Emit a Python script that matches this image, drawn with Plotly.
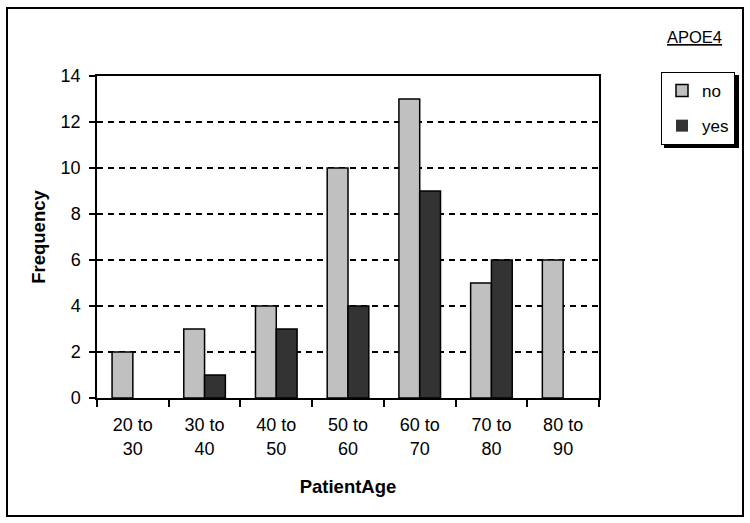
import plotly.graph_objs as go

# data
age_groups = ["20 to<br>30", "30 to<br>40", "40 to<br>50", "50 to<br>60",
              "60 to<br>70", "70 to<br>80", "80 to<br>90"]
freq_no = [2, 3, 4, 10, 13, 5, 6]
freq_yes = [0, 1, 3, 4, 9, 6, 0]

FONT = "Liberation Sans, Arial, sans-serif"

# no outline on empty bars (Excel draws nothing there)
def outline(vals):
    return [0 if v == 0 else 1.5 for v in vals]

fig = go.Figure()
fig.add_trace(go.Bar(
    x=age_groups, y=freq_no, name="no", legendgroup="no",
    marker=dict(color="#c0c0c0", line=dict(color="black", width=outline(freq_no)))
))
fig.add_trace(go.Bar(
    x=age_groups, y=freq_yes, name="yes", legendgroup="yes",
    marker=dict(color="#333333", line=dict(color="black", width=outline(freq_yes)))
))

# legend box (right aligned), shadow drawn behind it
leg_right, leg_top, leg_bottom, leg_left = 735, 72, 144, 661

fig.update_layout(
    width=750, height=523,
    margin=dict(l=97, r=151, t=76, b=125, autoexpand=False),
    paper_bgcolor="white", plot_bgcolor="white",
    font=dict(family=FONT, size=18, color="black"),
    barmode="group", bargap=0.42, bargroupgap=0,
    showlegend=True,
    legend=dict(
        x=(leg_right - 97) / 502, y=(398 - leg_top) / 322,
        xanchor="right", yanchor="top",
        bgcolor="white", bordercolor="black", borderwidth=1,
        font=dict(size=17), itemwidth=30, tracegroupgap=10,
        traceorder="grouped",
    ),
    xaxis=dict(
        title=dict(text="<b>PatientAge</b>", font=dict(size=18.5), standoff=22),
        showline=True, linecolor="black", linewidth=1.5, mirror=True,
        ticks="outside", tickson="boundaries", ticklen=7, tickcolor="black",
        tickwidth=1.5, showgrid=False, automargin=False, ticklabelstandoff=10,
    ),
    yaxis=dict(
        title=dict(text="<b>Frequency</b>", font=dict(size=18.5), standoff=10),
        range=[0, 14], dtick=2,
        showline=True, linecolor="black", linewidth=1.5, mirror=True,
        ticks="outside", ticklen=6, tickcolor="black", tickwidth=1.5,
        showgrid=True, gridcolor="black", griddash="6px,5px", gridwidth=1.5,
        zeroline=False, automargin=False, ticklabelstandoff=5,
    ),
    annotations=[dict(
        text="<u>APOE4</u>", xref="paper", yref="paper",
        x=(724 - 97) / 502, y=(398 - 37) / 322, xanchor="right", yanchor="middle",
        showarrow=False, font=dict(size=16.5),
    )],
    shapes=[
        # outer chart border
        dict(type="rect", xref="paper", yref="paper",
             x0=(7 - 97) / 502, x1=(743 - 97) / 502,
             y0=(398 - 516) / 322, y1=(398 - 8) / 322,
             line=dict(color="black", width=2), fillcolor="rgba(0,0,0,0)"),
        # legend shadow
        dict(type="rect", xref="paper", yref="paper",
             x0=(leg_left + 3 - 97) / 502, x1=(leg_right + 4 - 97) / 502,
             y0=(398 - leg_bottom - 4) / 322, y1=(398 - leg_top - 3) / 322,
             line=dict(width=0), fillcolor="black", layer="below"),
    ],
)

fig.write_html("out.html", config={"displayModeBar": False},
               post_script="document.body.style.margin='0';")
